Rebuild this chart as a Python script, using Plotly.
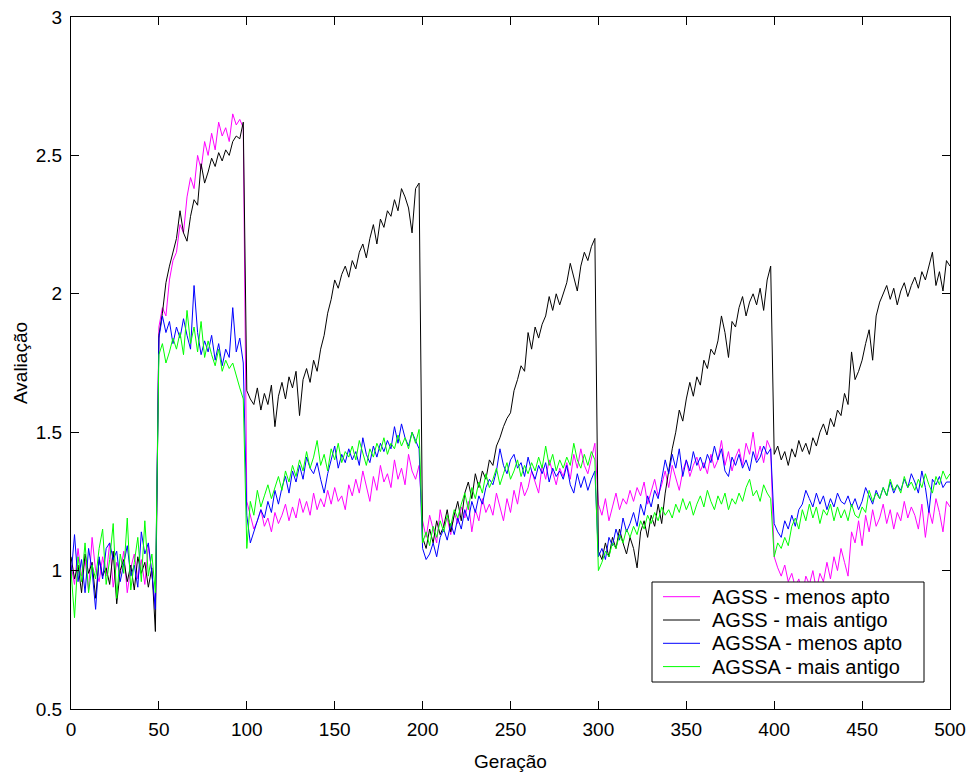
import plotly.graph_objects as go

# Fitness (Avaliação) per generation, sampled every 2 generations (0..500)
agss_menos_apto = [
    1.02, 0.95, 1.08, 0.98, 1.04, 0.93, 1.12, 1.00, 0.96, 1.05,
    0.98, 1.10, 0.94, 1.03, 0.99, 1.07, 0.92, 1.01, 1.06, 0.97,
    1.04, 0.95, 1.09, 0.99, 0.86, 1.88, 1.95, 1.92, 2.05, 2.12,
    2.15, 2.25, 2.22, 2.35, 2.42, 2.38, 2.50, 2.45, 2.55, 2.50,
    2.58, 2.52, 2.62, 2.57, 2.60, 2.55, 2.65, 2.61, 2.63, 2.60,
    1.25, 1.20, 1.15, 1.18, 1.22, 1.16, 1.19, 1.14, 1.21, 1.17,
    1.20, 1.24, 1.18, 1.23, 1.19, 1.26, 1.21, 1.25, 1.20, 1.28,
    1.22, 1.26, 1.23, 1.29, 1.24, 1.30, 1.25, 1.27, 1.22, 1.31,
    1.27, 1.33, 1.28, 1.36, 1.30, 1.25, 1.34, 1.29, 1.38, 1.32,
    1.35, 1.30, 1.40, 1.33, 1.37, 1.31, 1.42, 1.36, 1.33, 1.38,
    1.18, 1.12, 1.20, 1.15, 1.10, 1.22, 1.16, 1.19, 1.13, 1.21,
    1.17, 1.23, 1.19, 1.25, 1.14, 1.22, 1.18, 1.26, 1.21, 1.24,
    1.20, 1.28, 1.23, 1.18, 1.26, 1.21, 1.29, 1.24, 1.32, 1.27,
    1.30, 1.36, 1.32, 1.28, 1.38, 1.33, 1.40, 1.35, 1.31, 1.37,
    1.34, 1.39, 1.33, 1.42, 1.37, 1.44, 1.38, 1.35, 1.41, 1.46,
    1.24, 1.20, 1.26, 1.18, 1.23, 1.28, 1.22, 1.26, 1.24, 1.29,
    1.25, 1.30, 1.27, 1.32, 1.24, 1.29, 1.33, 1.27, 1.31, 1.36,
    1.30, 1.38, 1.33, 1.29, 1.36, 1.40, 1.34, 1.38, 1.41, 1.36,
    1.39, 1.35, 1.42, 1.37, 1.40, 1.47, 1.38, 1.43, 1.36, 1.41,
    1.44, 1.38, 1.46, 1.42, 1.50, 1.40, 1.45, 1.39, 1.47, 1.44,
    1.05, 1.01, 0.98, 1.02, 0.96, 0.99, 0.94, 0.97, 0.91, 0.98,
    0.95, 1.00, 0.93, 0.99, 0.96, 1.03, 0.97, 1.05, 1.00, 1.08,
    1.03, 0.98, 1.14, 1.10, 1.18, 1.09, 1.20, 1.14, 1.22, 1.16,
    1.19, 1.24, 1.17, 1.22, 1.15, 1.21, 1.18, 1.25, 1.19, 1.23,
    1.20, 1.15, 1.24, 1.12, 1.22, 1.17, 1.26, 1.21, 1.14, 1.25,
    1.23,
]

agss_mais_antigo = [
    1.05, 0.97, 1.02, 0.92, 1.06, 0.99, 1.03, 0.90, 1.04, 0.98,
    1.01, 0.95, 1.07, 0.88, 1.00, 1.04, 0.96, 1.02, 0.93, 1.05,
    0.99, 1.03, 0.94, 1.01, 0.78, 1.85, 1.93, 2.04, 2.10, 2.15,
    2.20, 2.30, 2.22, 2.19, 2.28, 2.34, 2.32, 2.47, 2.40, 2.44,
    2.49, 2.46, 2.51, 2.48, 2.52, 2.50, 2.55, 2.57, 2.56, 2.62,
    1.65, 1.62, 1.60, 1.66, 1.58, 1.64, 1.60, 1.67, 1.52, 1.63,
    1.68, 1.62, 1.70, 1.66, 1.72, 1.56, 1.69, 1.73, 1.68, 1.76,
    1.72, 1.80, 1.85, 1.93, 1.98, 2.05, 2.02, 2.07, 2.10, 2.06,
    2.12, 2.09, 2.15, 2.18, 2.13, 2.20, 2.25, 2.18, 2.27, 2.24,
    2.30, 2.28, 2.34, 2.30, 2.38, 2.35, 2.31, 2.22, 2.38, 2.40,
    1.12, 1.08, 1.15, 1.10, 1.18, 1.13, 1.16, 1.22, 1.14, 1.20,
    1.25, 1.18, 1.28, 1.32, 1.26, 1.35, 1.30, 1.36, 1.33, 1.40,
    1.38, 1.45, 1.48, 1.52, 1.55, 1.57, 1.65, 1.69, 1.74, 1.72,
    1.86, 1.80, 1.88, 1.84, 1.89, 1.92, 1.99, 1.94, 2.00, 1.96,
    2.00, 2.04, 2.11, 2.06, 2.01, 2.10, 2.15, 2.12, 2.17, 2.20,
    1.07, 1.04, 1.10, 1.05, 1.12, 1.08, 1.15, 1.10, 1.06, 1.12,
    1.08, 1.01, 1.14, 1.18, 1.12, 1.20, 1.16, 1.24, 1.17, 1.28,
    1.36, 1.44, 1.50, 1.58, 1.54, 1.62, 1.68, 1.63, 1.70, 1.67,
    1.76, 1.73, 1.80, 1.78, 1.83, 1.92, 1.86, 1.77, 1.90, 1.88,
    1.95, 1.99, 1.92, 1.97, 2.00, 1.96, 2.02, 1.94, 2.05, 2.10,
    1.42, 1.45, 1.40, 1.43, 1.38, 1.44, 1.41, 1.47, 1.43, 1.46,
    1.42, 1.48, 1.45, 1.50, 1.53, 1.49, 1.55, 1.52, 1.58, 1.56,
    1.64, 1.60, 1.79, 1.69, 1.72, 1.76, 1.82, 1.87, 1.76, 1.92,
    1.97, 2.00, 2.03, 1.98, 2.02, 1.96, 2.01, 2.04, 1.99, 2.03,
    2.06, 2.02, 2.08, 2.05, 2.10, 2.15, 2.03, 2.08, 2.01, 2.12,
    2.10,
]

agssa_menos_apto = [
    0.98, 1.13, 0.96, 1.04, 0.92, 1.08, 1.00, 0.86, 1.05, 0.97,
    1.08, 1.10, 1.04, 1.07, 0.96, 1.03, 1.09, 0.98, 1.02, 0.94,
    1.14, 1.06, 1.10, 0.99, 0.86, 1.84, 1.92, 1.86, 1.90, 1.82,
    1.88, 1.84, 1.91, 1.85, 1.80, 2.03, 1.86, 1.78, 1.83, 1.79,
    1.85, 1.76, 1.82, 1.74, 1.80, 1.77, 1.95, 1.79, 1.84, 1.75,
    1.20, 1.10, 1.14, 1.18, 1.22, 1.19, 1.25, 1.21, 1.29, 1.24,
    1.30, 1.34, 1.28, 1.36, 1.32, 1.38, 1.33, 1.41, 1.37, 1.35,
    1.39, 1.33, 1.28, 1.35, 1.40, 1.45, 1.37, 1.42, 1.39, 1.44,
    1.40, 1.43, 1.38, 1.48, 1.42, 1.39, 1.45, 1.41, 1.46, 1.43,
    1.47, 1.44, 1.52, 1.46, 1.53, 1.48, 1.45, 1.50, 1.47, 1.44,
    1.08, 1.04, 1.06, 1.10, 1.05, 1.12, 1.15, 1.11, 1.17, 1.13,
    1.19, 1.15, 1.22, 1.18, 1.25, 1.21, 1.27, 1.24, 1.30, 1.33,
    1.31, 1.36, 1.44, 1.38, 1.35, 1.40, 1.42, 1.37, 1.39, 1.34,
    1.41, 1.36, 1.33, 1.38, 1.35, 1.39, 1.32, 1.37, 1.34, 1.36,
    1.33, 1.38, 1.31, 1.28, 1.35, 1.30, 1.34, 1.29, 1.33, 1.36,
    1.05, 1.08, 1.04, 1.12, 1.09, 1.15, 1.11, 1.19, 1.14, 1.17,
    1.21, 1.16, 1.24, 1.20, 1.27, 1.23, 1.29, 1.26, 1.33, 1.40,
    1.35, 1.42, 1.37, 1.44, 1.34, 1.40, 1.36, 1.43, 1.38, 1.41,
    1.37, 1.42, 1.39, 1.45, 1.40, 1.44, 1.36, 1.34, 1.41, 1.38,
    1.42, 1.37, 1.40, 1.36, 1.43, 1.39, 1.41, 1.45, 1.42, 1.44,
    1.17, 1.14, 1.12, 1.18, 1.15, 1.20, 1.16, 1.22, 1.24, 1.29,
    1.26, 1.23, 1.28, 1.24, 1.27, 1.22, 1.26, 1.23, 1.28, 1.25,
    1.24, 1.27, 1.23, 1.26, 1.22, 1.25, 1.30, 1.27, 1.24, 1.29,
    1.26, 1.30, 1.27, 1.32, 1.28, 1.31, 1.29, 1.33, 1.30, 1.35,
    1.32, 1.28, 1.36, 1.30, 1.21, 1.33, 1.31, 1.34, 1.30, 1.32,
    1.32,
]

agssa_mais_antigo = [
    1.00, 0.83, 1.05, 0.96, 1.10, 0.92, 1.02, 0.97, 1.08, 1.15,
    0.95, 1.04, 1.17, 0.90, 1.06, 0.99, 1.19, 0.93, 1.03, 1.12,
    0.96, 1.18, 0.98, 1.06, 0.92, 1.78, 1.82, 1.75, 1.79, 1.84,
    1.80, 1.86, 1.78, 1.94, 1.82, 1.88, 1.79, 1.90, 1.77, 1.83,
    1.78, 1.74, 1.80, 1.72, 1.76, 1.73, 1.75, 1.70, 1.66, 1.62,
    1.08, 1.25, 1.20, 1.29, 1.23, 1.27, 1.31, 1.26, 1.30, 1.34,
    1.29, 1.36, 1.32, 1.38, 1.34, 1.40, 1.36, 1.43, 1.37, 1.41,
    1.47, 1.38, 1.42, 1.36, 1.44, 1.40, 1.46, 1.39, 1.43, 1.41,
    1.45, 1.40, 1.47, 1.42, 1.38, 1.44, 1.41, 1.46, 1.43, 1.48,
    1.42, 1.46, 1.44, 1.49, 1.45, 1.48, 1.44, 1.50, 1.46, 1.51,
    1.10, 1.14, 1.09, 1.16, 1.12, 1.18, 1.14, 1.20, 1.16, 1.22,
    1.19, 1.24, 1.28, 1.22, 1.30, 1.26, 1.32, 1.28, 1.35, 1.30,
    1.33, 1.37, 1.31, 1.35, 1.39, 1.33, 1.36, 1.40, 1.34, 1.38,
    1.35, 1.39, 1.36, 1.41, 1.37, 1.45, 1.38, 1.42, 1.36, 1.40,
    1.37, 1.41, 1.38, 1.46, 1.40, 1.37, 1.42, 1.38, 1.43, 1.40,
    1.00, 1.03, 1.07, 1.05, 1.10, 1.08, 1.13, 1.10, 1.15, 1.12,
    1.16, 1.13, 1.18, 1.15, 1.20, 1.17, 1.21, 1.18, 1.23, 1.20,
    1.22, 1.19, 1.24, 1.21, 1.26, 1.22, 1.25, 1.20, 1.24, 1.27,
    1.23, 1.29, 1.25, 1.22, 1.27, 1.24, 1.28, 1.22, 1.26, 1.24,
    1.28, 1.25, 1.30, 1.33, 1.27, 1.29, 1.25, 1.31, 1.28, 1.26,
    1.05, 1.10, 1.08, 1.12, 1.09, 1.16, 1.19, 1.15, 1.22, 1.18,
    1.24, 1.19, 1.23, 1.17, 1.22, 1.20, 1.24, 1.18, 1.23, 1.19,
    1.22, 1.18, 1.24, 1.20, 1.19, 1.23, 1.21, 1.29, 1.25, 1.28,
    1.26, 1.30, 1.27, 1.33, 1.29, 1.31, 1.28, 1.34, 1.30, 1.32,
    1.29, 1.33, 1.30, 1.35, 1.31, 1.28, 1.34, 1.31, 1.36, 1.33,
    1.35,
]

series_names = ["AGSS - menos apto", "AGSS - mais antigo",
                "AGSSA - menos apto", "AGSSA - mais antigo"]
series_values = [agss_menos_apto, agss_mais_antigo,
                 agssa_menos_apto, agssa_mais_antigo]
series_colors = ["#ff00ff", "#000000", "#0000ff", "#00ff00"]

x_ticks = [0, 50, 100, 150, 200, 250, 300, 350, 400, 450, 500]
y_ticks = [0.5, 1, 1.5, 2, 2.5, 3]

FONT = "Liberation Sans, Arial, sans-serif"

# Figure geometry (pixels)
W, H = 970, 779
ML, MR, MT, MB = 71, 20, 17, 70
PW, PH = W - ML - MR, H - MT - MB


def px(x):
    return (x - ML) / PW


def py(y):
    return (H - MB - y) / PH


fig = go.Figure()
for name, vals, color in zip(series_names, series_values, series_colors):
    gens = [2 * i for i in range(len(vals))]
    fig.add_trace(go.Scatter(
        x=gens, y=vals, mode="lines", name=name,
        line=dict(color=color, width=1), showlegend=False,
    ))

# Boxed legend in the lower-right corner of the axes
LEG_L, LEG_R, LEG_T, LEG_B = 652, 924, 582, 682
ROW0, ROW_STEP = 14.7, 23.3
shapes = [dict(type="rect", xref="paper", yref="paper", layer="above",
               x0=px(LEG_L), x1=px(LEG_R), y0=py(LEG_B), y1=py(LEG_T),
               fillcolor="#ffffff", line=dict(color="#000000", width=1))]
annotations = []
for i, (name, color) in enumerate(zip(series_names, series_colors)):
    row_y = py(LEG_T + ROW0 + i * ROW_STEP)
    shapes.append(dict(type="line", xref="paper", yref="paper", layer="above",
                       x0=px(LEG_L + 11), x1=px(LEG_L + 48), y0=row_y, y1=row_y,
                       line=dict(color=color, width=1)))
    annotations.append(dict(xref="paper", yref="paper", x=px(LEG_L + 58), y=row_y,
                            xanchor="left", yanchor="middle", showarrow=False,
                            text=name, font=dict(family=FONT, size=20, color="#000000")))

axis_common = dict(
    showline=True, linecolor="#000000", linewidth=1, mirror="ticks",
    ticks="inside", ticklen=8, tickcolor="#000000", tickwidth=1,
    showgrid=False, zeroline=False, automargin=False,
    tickfont=dict(family=FONT, size=19, color="#000000"),
)

fig.update_layout(
    width=W, height=H,
    margin=dict(l=ML, r=MR, t=MT, b=MB),
    paper_bgcolor="#ffffff", plot_bgcolor="#ffffff",
    font=dict(family=FONT, size=19, color="#000000"),
    xaxis=dict(range=[0, 500], tickvals=x_ticks,
               ticktext=[str(v) for v in x_ticks],
               ticklabelstandoff=3,
               title=dict(text="Geração", font=dict(family=FONT, size=19)),
               **axis_common),
    yaxis=dict(range=[0.5, 3], tickvals=y_ticks,
               ticktext=["0.5", "1", "1.5", "2", "2.5", "3"],
               ticklabelstandoff=4,
               title=dict(text="Avaliação", font=dict(family=FONT, size=19),
                          standoff=3),
               **axis_common),
    shapes=shapes,
    annotations=annotations,
    showlegend=False,
)

fig.write_html("out.html")
